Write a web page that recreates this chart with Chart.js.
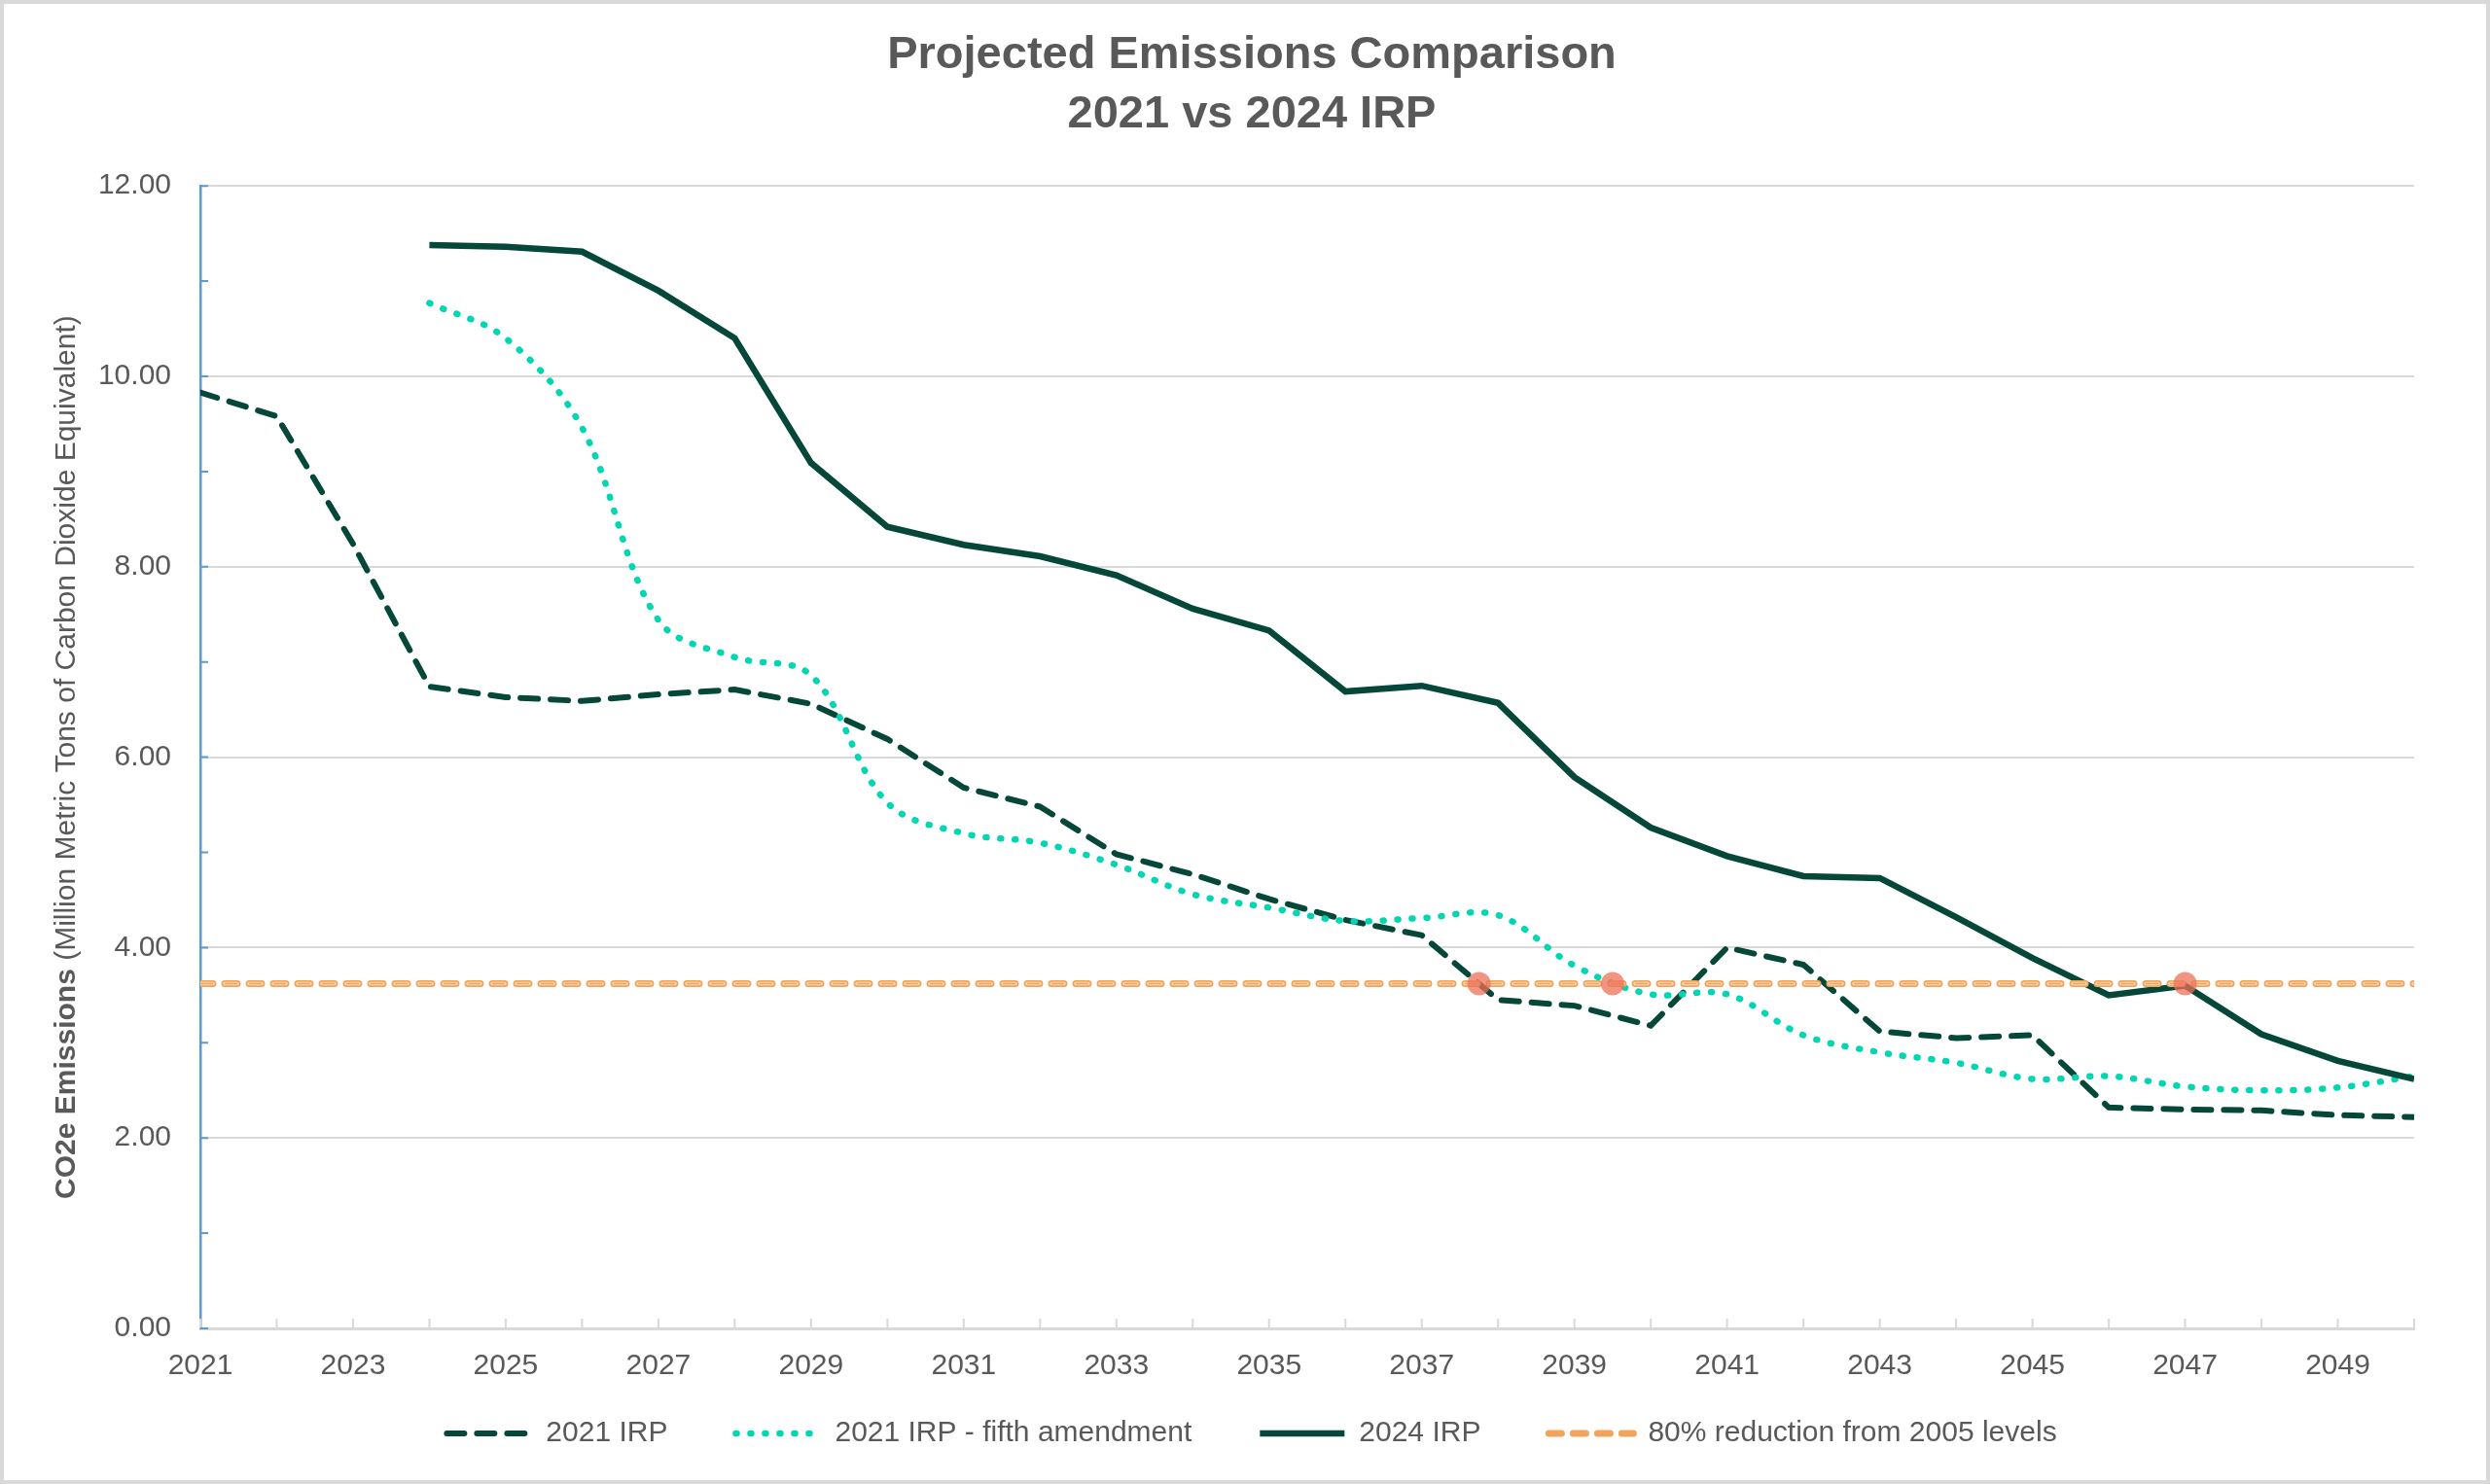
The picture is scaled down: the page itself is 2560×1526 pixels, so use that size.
<!DOCTYPE html>
<html>
<head>
<meta charset="utf-8">
<title>Projected Emissions Comparison</title>
<script src="https://cdn.jsdelivr.net/npm/chart.js@4.4.1/dist/chart.umd.min.js"></script>
<style>
    html, body { margin: 0; padding: 0; background: #ffffff; }
    #wrap { width: 2560px; height: 1526px; position: relative; }
</style>
</head>
<body>
<div id="wrap"><canvas id="emissionsChart"></canvas></div>
<script>
// Values (million metric tons CO2e)
const years = [2021, 2022, 2023, 2024, 2025, 2026, 2027, 2028, 2029, 2030,
               2031, 2032, 2033, 2034, 2035, 2036, 2037, 2038, 2039, 2040,
               2041, 2042, 2043, 2044, 2045, 2046, 2047, 2048, 2049, 2050];

const irp2021 = [9.83, 9.58, 8.24, 6.74, 6.63, 6.59, 6.66, 6.71, 6.56, 6.19,
                 5.68, 5.48, 4.98, 4.77, 4.51, 4.29, 4.13, 3.45, 3.39, 3.18,
                 4.00, 3.82, 3.12, 3.05, 3.08, 2.32, 2.30, 2.29, 2.24, 2.22];

const irp2021Fifth = [null, null, null, 10.77, 10.40, 9.46, 7.44, 7.05, 6.86, 5.52,
                      5.20, 5.10, 4.87, 4.56, 4.42, 4.28, 4.31, 4.34, 3.81, 3.51,
                      3.51, 3.08, 2.90, 2.79, 2.62, 2.65, 2.54, 2.50, 2.53, 2.65];

const irp2024 = [null, null, null, 11.38, 11.36, 11.31, 10.90, 10.40, 9.09, 8.42,
                 8.23, 8.11, 7.91, 7.56, 7.33, 6.69, 6.75, 6.57, 5.79, 5.26,
                 4.96, 4.75, 4.73, 4.32, 3.89, 3.50, 3.60, 3.09, 2.81, 2.62];

// 80% reduction from 2005 levels (flat target line)
const targetYears = [2021, 2050];
const targetValues = [3.62, 3.62];

// Points where the plans cross the target
const crossYears = [2037.75, 2039.5, 2047];
const crossValues = [3.62, 3.62, 3.62];

const xTickLabels = ['2021', '2023', '2025', '2027', '2029', '2031', '2033', '2035',
                     '2037', '2039', '2041', '2043', '2045', '2047', '2049'];

const titleLines = ['Projected Emissions Comparison', '2021 vs 2024 IRP'];
const yTitleBold = 'CO2e Emissions';
const yTitleRest = ' (Million Metric Tons of Carbon Dioxide Equivalent)';

const FONT = "'Liberation Sans', Arial, sans-serif";
const TEXT = '#595959';
const DARK = '#05483a';
const TEAL = '#00d6b2';

Chart.defaults.font.family = FONT;
Chart.defaults.color = TEXT;

const toPoints = (xs, ys) => xs.map((x, i) => ({ x: x, y: ys[i] }));

// Page frame + white background
const framePlugin = {
    id: 'frame',
    beforeDraw(chart) {
        const { ctx, width, height } = chart;
        ctx.save();
        ctx.fillStyle = '#ffffff';
        ctx.fillRect(0, 0, width, height);
        ctx.strokeStyle = '#d9d9d9';
        ctx.lineWidth = 4;
        ctx.strokeRect(2, 2, width - 4, height - 4);
        ctx.restore();
    }
};

// The x scale is kept short so the legend sits close under it;
// give its labels room again so they are not clipped away.
const xLabelRoomPlugin = {
    id: 'xLabelRoom',
    afterLayout(chart) {
        const x = chart.scales.x;
        x.bottom = x.top + 70;
        x.height = 70;
    }
};

// Small tick marks drawn inside the plot area, like the original
const innerTicksPlugin = {
    id: 'innerTicks',
    beforeDatasetsDraw(chart) {
        const { ctx, chartArea, scales } = chart;
        ctx.save();
        ctx.lineWidth = 2;
        ctx.strokeStyle = '#d9d9d9';
        ctx.beginPath();
        years.forEach(yr => {
            const px = scales.x.getPixelForValue(yr);
            ctx.moveTo(px, chartArea.bottom);
            ctx.lineTo(px, chartArea.bottom - 10);
        });
        ctx.stroke();
        ctx.strokeStyle = '#5b9bd5';
        ctx.beginPath();
        for (let v = scales.y.min; v <= scales.y.max; v += 1) {
            const py = scales.y.getPixelForValue(v);
            ctx.moveTo(chartArea.left, py);
            ctx.lineTo(chartArea.left + 8, py);
        }
        ctx.stroke();
        ctx.restore();
    }
};

// Y axis title with a bold lead-in
const yTitlePlugin = {
    id: 'yTitle',
    afterDraw(chart) {
        const { ctx, chartArea } = chart;
        const cy = (chartArea.top + chartArea.bottom) / 2;
        const bold = 'bold 30px ' + FONT;
        const normal = '30px ' + FONT;
        ctx.save();
        ctx.translate(69, cy);
        ctx.rotate(-Math.PI / 2);
        ctx.fillStyle = TEXT;
        ctx.textBaseline = 'middle';
        ctx.textAlign = 'left';
        ctx.font = bold;
        const w1 = ctx.measureText(yTitleBold).width;
        ctx.font = normal;
        const w2 = ctx.measureText(yTitleRest).width;
        const x0 = -(w1 + w2) / 2;
        ctx.font = bold;
        ctx.fillText(yTitleBold, x0, 0);
        ctx.font = normal;
        ctx.fillText(yTitleRest, x0 + w1, 0);
        ctx.restore();
    }
};

const lineBase = {
    pointRadius: 0,
    pointHoverRadius: 0,
    fill: false,
    spanGaps: false
};

const datasets = [
    {
        ...lineBase,
        label: '2021 IRP',
        data: irp2021,
        borderColor: DARK,
        backgroundColor: DARK,
        borderWidth: 6,
        borderDash: [18, 13],
        borderCapStyle: 'round',
        tension: 0,
        order: 6
    },
    {
        ...lineBase,
        label: '2021 IRP - fifth amendment',
        data: irp2021Fifth,
        borderColor: TEAL,
        backgroundColor: TEAL,
        borderWidth: 6.5,
        borderDash: [1, 14],
        borderCapStyle: 'round',
        tension: 0.35,
        order: 5
    },
    {
        ...lineBase,
        label: '2024 IRP',
        data: irp2024,
        borderColor: DARK,
        backgroundColor: DARK,
        borderWidth: 6.5,
        tension: 0,
        order: 4
    },
    {
        ...lineBase,
        label: '80% reduction from 2005 levels',
        data: toPoints(targetYears, targetValues),
        borderColor: '#f3a45c',
        backgroundColor: '#f3a45c',
        borderWidth: 7,
        borderDash: [13, 12],
        borderCapStyle: 'round',
        order: 3
    },
    {
        ...lineBase,
        label: 'target-fill',
        data: toPoints(targetYears, targetValues),
        borderColor: '#fcd9b6',
        borderWidth: 3.5,
        borderDash: [13, 12],
        borderCapStyle: 'round',
        order: 2
    },
    {
        ...lineBase,
        label: 'target-core',
        data: toPoints(targetYears, targetValues),
        borderColor: '#f3a45c',
        borderWidth: 1.5,
        borderDash: [13, 12],
        borderCapStyle: 'butt',
        order: 1
    },
    {
        label: 'crossings',
        data: toPoints(crossYears, crossValues),
        showLine: false,
        pointRadius: 12,
        pointHoverRadius: 12,
        pointBorderWidth: 0,
        pointBackgroundColor: 'rgba(236, 112, 88, 0.75)',
        borderColor: 'rgba(0,0,0,0)',
        order: 0
    }
];

// Legend samples keep each series' own dash pattern
function legendLabels(chart) {
    const items = Chart.defaults.plugins.legend.labels.generateLabels(chart);
    return items
        .filter(item => item.datasetIndex <= 3)
        .sort((a, b) => a.datasetIndex - b.datasetIndex)
        .map(item => {
            const ds = chart.data.datasets[item.datasetIndex];
            item.lineDash = ds.borderDash || [];
            item.lineCap = ds.borderCapStyle || 'butt';
            item.lineWidth = ds.borderWidth;
            item.strokeStyle = ds.borderColor;
            item.fillStyle = ds.borderColor;
            item.pointStyle = 'line';
            item.fontColor = TEXT;
            return item;
        });
}

new Chart(document.getElementById('emissionsChart'), {
    type: 'line',
    data: { labels: years, datasets: datasets },
    plugins: [framePlugin, xLabelRoomPlugin, innerTicksPlugin, yTitlePlugin],
    options: {
        responsive: true,
        maintainAspectRatio: false,
        devicePixelRatio: 1,
        animation: false,
        layout: { padding: { top: 0, left: 92, right: 78, bottom: 27 } },
        plugins: {
            title: {
                display: true,
                text: titleLines,
                color: TEXT,
                font: { size: 47, weight: 'bold', lineHeight: 1.3 },
                padding: { top: 26, bottom: 43 }
            },
            legend: {
                display: true,
                position: 'bottom',
                labels: {
                    color: TEXT,
                    font: { size: 30 },
                    usePointStyle: true,
                    pointStyle: 'line',
                    pointStyleWidth: 87,
                    padding: 70,
                    generateLabels: legendLabels
                }
            },
            tooltip: { enabled: false }
        },
        scales: {
            x: {
                type: 'linear',
                min: 2021,
                max: 2050,
                afterFit: scale => { scale.height = 23; },
                grid: { display: false, drawTicks: false },
                border: { display: true, color: '#d9d9d9', width: 3 },
                ticks: {
                    stepSize: 1,
                    autoSkip: false,
                    maxRotation: 0,
                    padding: 21,
                    color: TEXT,
                    font: { size: 30 },
                    callback: v => xTickLabels.includes(String(v)) ? String(v) : ''
                }
            },
            y: {
                min: 0,
                max: 12,
                afterFit: scale => { scale.width = 114; },
                grid: { color: '#d9d9d9', lineWidth: 2, drawTicks: false },
                border: { display: true, color: '#5b9bd5', width: 2.5 },
                ticks: {
                    stepSize: 2,
                    padding: 30,
                    color: TEXT,
                    font: { size: 30 },
                    callback: v => Number(v).toFixed(2)
                }
            }
        }
    }
});
</script>
</body>
</html>
